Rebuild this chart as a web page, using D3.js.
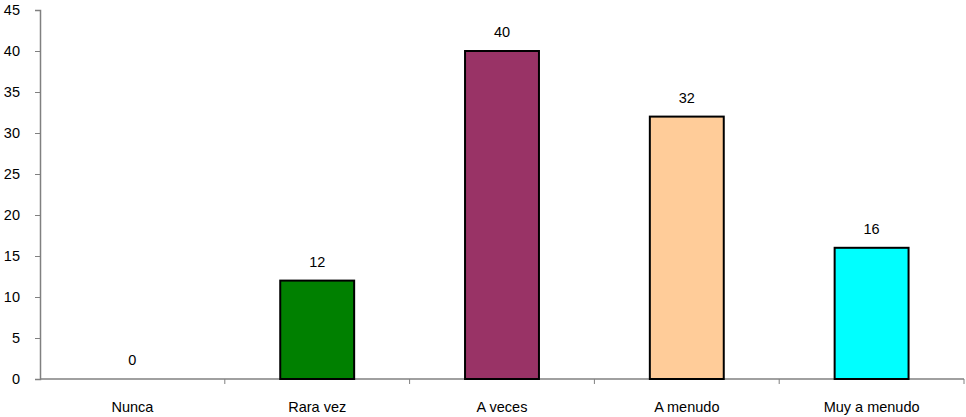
<!DOCTYPE html>
<html><head><meta charset="utf-8">
<script src="https://cdn.jsdelivr.net/npm/d3@7"></script>
<style>body{margin:0;background:#fff}text{font-family:"Liberation Sans",Arial,sans-serif;font-size:14.5px;fill:#000}</style>
</head><body><svg id="c" width="966" height="417"></svg>
<script>
const categories = ["Nunca","Rara vez","A veces","A menudo","Muy a menudo"];
const values = [0,12,40,32,16];
const colors = ["#FFFFFF","#008000","#993366","#FFCC99","#00FFFF"];
const yTicks = [0,5,10,15,20,25,30,35,40,45];

const svg = d3.select("#c");
const x = d3.scaleBand().domain(categories).range([40,964]).paddingInner(0.6).paddingOuter(0.3);
const y = d3.scaleLinear().domain([0,45]).range([379,10]);

const yAxis = svg.append("g").attr("transform","translate(40,0)")
  .call(d3.axisLeft(y).tickValues(yTicks).tickSize(5).tickPadding(15));
yAxis.select(".domain").attr("stroke","#808080").attr("stroke-width",1.5);
yAxis.selectAll(".tick line").attr("stroke","#808080");
yAxis.selectAll("text").style("font-size","14.5px").style("font-family","'Liberation Sans',Arial,sans-serif").attr("fill","#000");

const xb = d3.scaleLinear().domain([0,5]).range([40,964]);
const xg = svg.append("g").attr("transform","translate(0,379)");
xg.append("line").attr("x1",40).attr("x2",964).attr("stroke","#808080").attr("stroke-width",1.5);
xg.selectAll("line.t").data(d3.range(1,6)).join("line").attr("class","t")
  .attr("x1",d=>xb(d)).attr("x2",d=>xb(d)).attr("y1",0).attr("y2",5).attr("stroke","#808080");
xg.selectAll("text").data(categories).join("text")
  .attr("x",d=>x(d)+x.bandwidth()/2).attr("y",33).attr("text-anchor","middle").text(d=>d);

const data = categories.map((c,i)=>({c,v:values[i],col:colors[i]}));
svg.selectAll("rect.bar").data(data.filter(d=>d.v>0)).join("rect").attr("class","bar")
  .attr("x",d=>x(d.c)).attr("width",x.bandwidth())
  .attr("y",d=>y(d.v)).attr("height",d=>y(0)-y(d.v))
  .attr("fill",d=>d.col).attr("stroke","#000").attr("stroke-width",2);
svg.selectAll("text.val").data(data).join("text").attr("class","val")
  .attr("x",d=>x(d.c)+x.bandwidth()/2).attr("y",d=>y(d.v)-14)
  .attr("text-anchor","middle").text(d=>d.v);
</script></body></html>
